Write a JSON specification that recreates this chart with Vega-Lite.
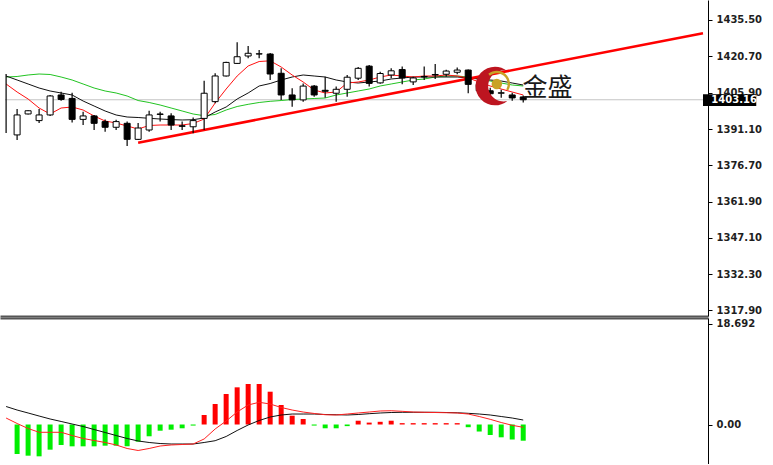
{
  "$schema": "https://vega.github.io/schema/vega-lite/v6.json",
  "padding": 0,
  "autosize": {"type": "pad"},
  "background": "white",
  "spacing": 2,
  "config": {
    "view": {"stroke": null},
    "axis": {"labelFont": "DejaVu Sans", "labelFontSize": 10, "labelFontWeight": "bold", "labelColor": "#1e1e1e", "domainColor": "#000000", "tickColor": "#000000", "grid": false, "zindex": 0}
  },
  "datasets": {
    "candles": [
      {"i": -1, "o": null, "h": 1413.6, "l": 1389.7, "c": null},
      {"i": 0, "o": 1388.9, "h": 1399.4, "l": 1386.8, "c": 1397.0},
      {"i": 1, "o": 1397.4, "h": 1398.9, "l": 1397.2, "c": 1398.7},
      {"i": 2, "o": 1394.7, "h": 1399.4, "l": 1393.7, "c": 1397.0},
      {"i": 3, "o": 1397.0, "h": 1405.1, "l": 1396.6, "c": 1404.7},
      {"i": 4, "o": 1405.1, "h": 1406.4, "l": 1402.8, "c": 1403.3},
      {"i": 5, "o": 1403.7, "h": 1406.0, "l": 1393.9, "c": 1395.2},
      {"i": 6, "o": 1395.2, "h": 1398.3, "l": 1392.9, "c": 1396.6},
      {"i": 7, "o": 1396.6, "h": 1397.0, "l": 1390.9, "c": 1393.6},
      {"i": 8, "o": 1394.3, "h": 1395.2, "l": 1390.2, "c": 1392.0},
      {"i": 9, "o": 1392.0, "h": 1395.0, "l": 1390.9, "c": 1394.3},
      {"i": 10, "o": 1393.6, "h": 1394.3, "l": 1384.4, "c": 1387.1},
      {"i": 11, "o": 1387.1, "h": 1393.7, "l": 1386.8, "c": 1391.7},
      {"i": 12, "o": 1390.9, "h": 1398.7, "l": 1390.2, "c": 1397.0},
      {"i": 13, "o": 1397.2, "h": 1398.3, "l": 1394.3, "c": 1397.4},
      {"i": 14, "o": 1396.6, "h": 1397.7, "l": 1390.9, "c": 1392.9},
      {"i": 15, "o": 1392.6, "h": 1394.3, "l": 1390.9, "c": 1392.4},
      {"i": 16, "o": 1392.2, "h": 1396.0, "l": 1389.6, "c": 1394.7},
      {"i": 17, "o": 1395.6, "h": 1410.9, "l": 1390.9, "c": 1405.8},
      {"i": 18, "o": 1402.4, "h": 1413.9, "l": 1401.7, "c": 1412.8},
      {"i": 19, "o": 1412.8, "h": 1418.6, "l": 1412.6, "c": 1418.3},
      {"i": 20, "o": 1417.9, "h": 1426.5, "l": 1417.7, "c": 1420.6},
      {"i": 21, "o": 1420.9, "h": 1425.0, "l": 1420.0, "c": 1422.0},
      {"i": 22, "o": 1421.7, "h": 1423.3, "l": 1420.0, "c": 1421.8},
      {"i": 23, "o": 1421.7, "h": 1422.1, "l": 1411.2, "c": 1413.6},
      {"i": 24, "o": 1413.9, "h": 1415.9, "l": 1403.1, "c": 1405.1},
      {"i": 25, "o": 1405.1, "h": 1407.8, "l": 1400.3, "c": 1403.1},
      {"i": 26, "o": 1403.1, "h": 1409.8, "l": 1402.4, "c": 1408.7},
      {"i": 27, "o": 1408.7, "h": 1409.1, "l": 1404.4, "c": 1405.1},
      {"i": 28, "o": 1407.0, "h": 1412.5, "l": 1404.0, "c": 1406.6},
      {"i": 29, "o": 1405.8, "h": 1408.5, "l": 1402.4, "c": 1407.4},
      {"i": 30, "o": 1407.4, "h": 1413.2, "l": 1404.4, "c": 1412.3},
      {"i": 31, "o": 1411.9, "h": 1416.4, "l": 1411.2, "c": 1415.9},
      {"i": 32, "o": 1416.8, "h": 1417.3, "l": 1408.5, "c": 1409.8},
      {"i": 33, "o": 1410.0, "h": 1414.5, "l": 1409.6, "c": 1413.8},
      {"i": 34, "o": 1413.2, "h": 1415.9, "l": 1411.9, "c": 1414.9},
      {"i": 35, "o": 1415.4, "h": 1416.6, "l": 1409.4, "c": 1412.0},
      {"i": 36, "o": 1410.4, "h": 1412.5, "l": 1409.1, "c": 1412.0},
      {"i": 37, "o": 1412.6, "h": 1416.6, "l": 1411.2, "c": 1412.4},
      {"i": 38, "o": 1413.4, "h": 1417.7, "l": 1411.6, "c": 1413.2},
      {"i": 39, "o": 1413.5, "h": 1415.3, "l": 1412.5, "c": 1414.8},
      {"i": 40, "o": 1414.3, "h": 1416.2, "l": 1413.5, "c": 1415.2},
      {"i": 41, "o": 1415.2, "h": 1415.4, "l": 1405.8, "c": 1409.4},
      {"i": 42, "o": 1409.4, "h": 1410.5, "l": 1404.8, "c": 1406.8},
      {"i": 43, "o": 1406.8, "h": 1408.0, "l": 1404.2, "c": 1405.6},
      {"i": 44, "o": 1405.8, "h": 1407.2, "l": 1404.0, "c": 1406.0},
      {"i": 45, "o": 1405.1, "h": 1406.0, "l": 1402.8, "c": 1403.9},
      {"i": 46, "o": 1404.3, "h": 1404.9, "l": 1402.0, "c": 1403.16}
    ],
    "ma": [
      {"i": -1, "fast": 1409.55, "mid": 1412.79, "slow": 1412.38},
      {"i": 0, "fast": 1406.30, "mid": 1411.17, "slow": 1412.59},
      {"i": 1, "fast": 1403.46, "mid": 1409.55, "slow": 1413.20},
      {"i": 2, "fast": 1399.81, "mid": 1407.92, "slow": 1413.60},
      {"i": 3, "fast": 1397.38, "mid": 1406.71, "slow": 1413.40},
      {"i": 4, "fast": 1399.81, "mid": 1405.90, "slow": 1412.38},
      {"i": 5, "fast": 1400.22, "mid": 1405.09, "slow": 1411.17},
      {"i": 6, "fast": 1399.00, "mid": 1402.65, "slow": 1409.55},
      {"i": 7, "fast": 1396.57, "mid": 1400.62, "slow": 1407.92},
      {"i": 8, "fast": 1394.54, "mid": 1398.60, "slow": 1406.71},
      {"i": 9, "fast": 1393.73, "mid": 1396.98, "slow": 1405.90},
      {"i": 10, "fast": 1392.51, "mid": 1396.16, "slow": 1404.68},
      {"i": 11, "fast": 1391.30, "mid": 1395.96, "slow": 1402.85},
      {"i": 12, "fast": 1392.72, "mid": 1395.64, "slow": 1402.05},
      {"i": 13, "fast": 1392.92, "mid": 1395.35, "slow": 1401.03},
      {"i": 14, "fast": 1392.92, "mid": 1395.11, "slow": 1399.81},
      {"i": 15, "fast": 1392.92, "mid": 1394.95, "slow": 1398.60},
      {"i": 16, "fast": 1393.53, "mid": 1395.07, "slow": 1397.38},
      {"i": 17, "fast": 1395.35, "mid": 1395.76, "slow": 1396.69},
      {"i": 18, "fast": 1401.84, "mid": 1398.19, "slow": 1397.18},
      {"i": 19, "fast": 1407.52, "mid": 1400.22, "slow": 1399.00},
      {"i": 20, "fast": 1412.79, "mid": 1403.46, "slow": 1400.42},
      {"i": 21, "fast": 1416.85, "mid": 1405.90, "slow": 1401.31},
      {"i": 22, "fast": 1418.67, "mid": 1408.74, "slow": 1402.05},
      {"i": 23, "fast": 1418.95, "mid": 1409.75, "slow": 1402.53},
      {"i": 24, "fast": 1416.44, "mid": 1411.17, "slow": 1402.85},
      {"i": 25, "fast": 1413.20, "mid": 1412.38, "slow": 1403.26},
      {"i": 26, "fast": 1410.36, "mid": 1413.20, "slow": 1403.46},
      {"i": 27, "fast": 1407.11, "mid": 1412.79, "slow": 1403.67},
      {"i": 28, "fast": 1405.90, "mid": 1412.38, "slow": 1403.87},
      {"i": 29, "fast": 1406.30, "mid": 1411.17, "slow": 1405.09},
      {"i": 30, "fast": 1409.95, "mid": 1410.36, "slow": 1405.90},
      {"i": 31, "fast": 1410.36, "mid": 1409.95, "slow": 1406.71},
      {"i": 32, "fast": 1411.17, "mid": 1410.36, "slow": 1407.52},
      {"i": 33, "fast": 1412.38, "mid": 1410.76, "slow": 1408.74},
      {"i": 34, "fast": 1413.20, "mid": 1411.57, "slow": 1409.55},
      {"i": 35, "fast": 1412.79, "mid": 1411.98, "slow": 1410.36},
      {"i": 36, "fast": 1412.38, "mid": 1412.38, "slow": 1411.17},
      {"i": 37, "fast": 1412.79, "mid": 1412.38, "slow": 1411.57},
      {"i": 38, "fast": 1412.79, "mid": 1412.38, "slow": 1412.38},
      {"i": 39, "fast": 1413.20, "mid": 1412.38, "slow": 1412.79},
      {"i": 40, "fast": 1412.79, "mid": 1412.38, "slow": 1412.79},
      {"i": 41, "fast": 1411.98, "mid": 1411.98, "slow": 1412.38},
      {"i": 42, "fast": 1410.36, "mid": 1411.57, "slow": 1411.57},
      {"i": 43, "fast": 1408.74, "mid": 1411.17, "slow": 1410.76},
      {"i": 44, "fast": 1407.52, "mid": 1410.76, "slow": 1409.95},
      {"i": 45, "fast": 1406.30, "mid": 1409.95, "slow": 1409.14},
      {"i": 46, "fast": 1405.09, "mid": 1409.14, "slow": 1408.74}
    ],
    "macd": [
      {"i": -1, "h": null, "dif": 1.20, "dea": 3.33},
      {"i": 0, "h": -5.46, "dif": 0.19, "dea": 2.68},
      {"i": 1, "h": -5.77, "dif": -0.74, "dea": 2.13},
      {"i": 2, "h": -5.89, "dif": -1.44, "dea": 1.57},
      {"i": 3, "h": -4.66, "dif": -1.44, "dea": 1.02},
      {"i": 4, "h": -3.79, "dif": -1.44, "dea": 0.56},
      {"i": 5, "h": -4.04, "dif": -2.04, "dea": 0.09},
      {"i": 6, "h": -4.04, "dif": -2.59, "dea": -0.37},
      {"i": 7, "h": -4.04, "dif": -2.96, "dea": -0.93},
      {"i": 8, "h": -3.92, "dif": -3.33, "dea": -1.48},
      {"i": 9, "h": -3.92, "dif": -3.79, "dea": -2.04},
      {"i": 10, "h": -4.04, "dif": -4.44, "dea": -2.59},
      {"i": 11, "h": -3.18, "dif": -4.81, "dea": -3.05},
      {"i": 12, "h": -2.18, "dif": -4.44, "dea": -3.33},
      {"i": 13, "h": -1.15, "dif": -3.98, "dea": -3.52},
      {"i": 14, "h": -0.96, "dif": -3.79, "dea": -3.61},
      {"i": 15, "h": -0.70, "dif": -3.70, "dea": -3.61},
      {"i": 16, "h": -0.20, "dif": -3.61, "dea": -3.61},
      {"i": 17, "h": 1.76, "dif": -2.68, "dea": -3.33},
      {"i": 18, "h": 3.79, "dif": -0.83, "dea": -3.00},
      {"i": 19, "h": 5.64, "dif": 0.65, "dea": -2.22},
      {"i": 20, "h": 6.88, "dif": 2.31, "dea": -1.11},
      {"i": 21, "h": 7.50, "dif": 3.61, "dea": -0.09},
      {"i": 22, "h": 7.50, "dif": 4.11, "dea": 0.74},
      {"i": 23, "h": 6.07, "dif": 3.79, "dea": 1.39},
      {"i": 24, "h": 3.61, "dif": 3.15, "dea": 1.76},
      {"i": 25, "h": 1.63, "dif": 2.68, "dea": 1.94},
      {"i": 26, "h": 1.02, "dif": 2.31, "dea": 1.94},
      {"i": 27, "h": -0.20, "dif": 2.04, "dea": 1.94},
      {"i": 28, "h": -0.70, "dif": 1.81, "dea": 1.85},
      {"i": 29, "h": -0.70, "dif": 1.76, "dea": 1.81},
      {"i": 30, "h": -0.30, "dif": 1.94, "dea": 1.76},
      {"i": 31, "h": 0.70, "dif": 2.13, "dea": 1.85},
      {"i": 32, "h": 0.35, "dif": 2.31, "dea": 2.00},
      {"i": 33, "h": 0.50, "dif": 2.50, "dea": 2.13},
      {"i": 34, "h": 0.70, "dif": 2.55, "dea": 2.22},
      {"i": 35, "h": 0.25, "dif": 2.44, "dea": 2.26},
      {"i": 36, "h": 0.25, "dif": 2.31, "dea": 2.26},
      {"i": 37, "h": 0.25, "dif": 2.26, "dea": 2.26},
      {"i": 38, "h": 0.25, "dif": 2.22, "dea": 2.26},
      {"i": 39, "h": 0.25, "dif": 2.18, "dea": 2.22},
      {"i": 40, "h": 0.25, "dif": 2.13, "dea": 2.17},
      {"i": 41, "h": -0.50, "dif": 1.94, "dea": 2.07},
      {"i": 42, "h": -1.30, "dif": 1.48, "dea": 1.94},
      {"i": 43, "h": -1.94, "dif": 0.96, "dea": 1.76},
      {"i": 44, "h": -2.37, "dif": 0.37, "dea": 1.48},
      {"i": 45, "h": -2.79, "dif": -0.15, "dea": 1.20},
      {"i": 46, "h": -3.00, "dif": -0.52, "dea": 0.83}
    ],
    "trend": [
      {"i": 11, "p": 1385.74},
      {"i": 62.34, "p": 1430.12}
    ],
    "last": [
      {"i0": 62.34, "i1": 67.18, "ia": -1.1, "it": 63.1, "p0": 1400.63, "p1": 1405.37, "p": 1403.16, "label": "1403.16"}
    ],
    "logo": [
      {"i": 43.43, "p": 1408.74, "bi": 43.6, "bp": 1409.55, "ti": 45.94, "tp": 1407.9, "label": "金盛"}
    ]
  },
  "vconcat": [
    {
      "width": 708,
      "height": 316,
      "encoding": {
        "x": {"type": "quantitative", "scale": {"domain": [-1.1, 62.34], "nice": false, "zero": false}, "axis": {"orient": "bottom", "title": null, "labels": false, "ticks": false, "domain": true, "domainColor": "#555555", "domainWidth": 2}},
        "y": {"type": "quantitative", "scale": {"domain": [1315.47, 1443.61], "nice": false, "zero": false}, "axis": {"orient": "right", "title": null, "values": [1317.9, 1332.3, 1347.1, 1361.9, 1376.7, 1391.1, 1405.9, 1420.7, 1435.5], "format": ".2f", "tickSize": 4, "labelPadding": 4, "labelOverlap": false, "domainWidth": 1, "zindex": 0}}
      },
      "layer": [
        {
          "data": {"name": "last"},
          "mark": {"type": "rule", "color": "#c4c4c4", "strokeWidth": 1},
          "encoding": {
            "x": {"field": "ia"},
            "x2": {"field": "i0"},
            "y": {"field": "p"}
          }
        },
        {
          "data": {"name": "ma"},
          "mark": {"type": "line", "color": "#22c422", "strokeWidth": 1, "clip": true},
          "encoding": {
            "x": {"field": "i"},
            "y": {"field": "slow"}
          }
        },
        {
          "data": {"name": "ma"},
          "mark": {"type": "line", "color": "#111111", "strokeWidth": 1, "clip": true},
          "encoding": {
            "x": {"field": "i"},
            "y": {"field": "mid"}
          }
        },
        {
          "data": {"name": "ma"},
          "mark": {"type": "line", "color": "#ff1010", "strokeWidth": 1, "clip": true},
          "encoding": {
            "x": {"field": "i"},
            "y": {"field": "fast"}
          }
        },
        {
          "data": {"name": "trend"},
          "mark": {"type": "line", "color": "#ff0000", "strokeWidth": 2.6, "clip": true},
          "encoding": {
            "x": {"field": "i"},
            "y": {"field": "p"}
          }
        },
        {
          "data": {"name": "candles"},
          "mark": {"type": "rule", "color": "#000000", "strokeWidth": 1.2, "clip": true},
          "encoding": {
            "x": {"field": "i"},
            "y": {"field": "l"},
            "y2": {"field": "h"}
          }
        },
        {
          "data": {"name": "candles"},
          "transform": [{"filter": "datum.o != null"}],
          "mark": {"type": "bar", "size": 6, "stroke": "#000000", "strokeWidth": 1, "clip": true},
          "encoding": {
            "x": {"field": "i"},
            "y": {"field": "o"},
            "y2": {"field": "c"},
            "fill": {"condition": {"test": "datum.c >= datum.o", "value": "#ffffff"}, "value": "#000000"}
          }
        },
        {
          "data": {"name": "logo"},
          "mark": {"type": "point", "filled": true, "shape": "M 0.64 -0.77 A 1 1 0 1 0 0.64 0.77 A 0.7945 0.7945 0 1 1 0.64 -0.77 Z", "size": 1500, "color": "#bd1520", "opacity": 1},
          "encoding": {
            "x": {"field": "i"},
            "y": {"field": "p"}
          }
        },
        {
          "data": {"name": "logo"},
          "mark": {"type": "point", "filled": true, "shape": "M -0.643 -0.766 A 1 1 0 0 1 0.866 0.5 L 0.71 0.41 A 0.82 0.82 0 0 0 -0.527 -0.628 Z", "size": 700, "color": "#c9a227", "opacity": 1},
          "encoding": {
            "x": {"field": "bi"},
            "y": {"field": "bp"}
          }
        },
        {
          "data": {"name": "logo"},
          "mark": {"type": "point", "filled": true, "shape": "circle", "size": 110, "color": "#c9a227", "opacity": 1},
          "encoding": {
            "x": {"field": "bi"},
            "y": {"field": "bp"}
          }
        },
        {
          "data": {"name": "logo"},
          "mark": {"type": "text", "align": "left", "baseline": "middle", "font": "Noto Sans CJK SC", "fontSize": 25, "color": "#1a1a1a"},
          "encoding": {
            "x": {"field": "ti"},
            "y": {"field": "tp"},
            "text": {"field": "label"}
          }
        },
        {
          "data": {"name": "last"},
          "mark": {"type": "rect", "color": "#000000"},
          "encoding": {
            "x": {"field": "i0"},
            "x2": {"field": "i1"},
            "y": {"field": "p0"},
            "y2": {"field": "p1"}
          }
        },
        {
          "data": {"name": "last"},
          "mark": {"type": "text", "align": "left", "baseline": "middle", "font": "DejaVu Sans", "fontSize": 10, "fontWeight": "bold", "color": "#ffffff"},
          "encoding": {
            "x": {"field": "it"},
            "y": {"field": "p"},
            "text": {"field": "label"}
          }
        }
      ]
    },
    {
      "width": 708,
      "height": 146,
      "encoding": {
        "x": {"type": "quantitative", "scale": {"domain": [-1.1, 62.34], "nice": false, "zero": false}, "axis": {"orient": "top", "title": null, "labels": false, "ticks": false, "domain": true, "domainColor": "#555555", "domainWidth": 2}},
        "y": {"type": "quantitative", "scale": {"domain": [-7.31, 19.71], "nice": false, "zero": false}, "axis": {"orient": "right", "title": null, "values": [0, 18.692], "labelExpr": "datum.value == 0 ? '0.00' : '18.692'", "tickSize": 4, "labelPadding": 4, "labelOverlap": false}}
      },
      "layer": [
        {
          "data": {"name": "macd"},
          "transform": [{"filter": "datum.h != null"}],
          "mark": {"type": "bar", "size": 5, "clip": true},
          "encoding": {
            "x": {"field": "i"},
            "y": {"field": "h"},
            "y2": {"datum": 0},
            "color": {"condition": {"test": "datum.h >= 0", "value": "#ff0000"}, "value": "#00ee00"}
          }
        },
        {
          "data": {"name": "macd"},
          "mark": {"type": "line", "color": "#111111", "strokeWidth": 1, "clip": true},
          "encoding": {
            "x": {"field": "i"},
            "y": {"field": "dea"}
          }
        },
        {
          "data": {"name": "macd"},
          "mark": {"type": "line", "color": "#ff2020", "strokeWidth": 1, "clip": true},
          "encoding": {
            "x": {"field": "i"},
            "y": {"field": "dif"}
          }
        }
      ]
    }
  ]
}
